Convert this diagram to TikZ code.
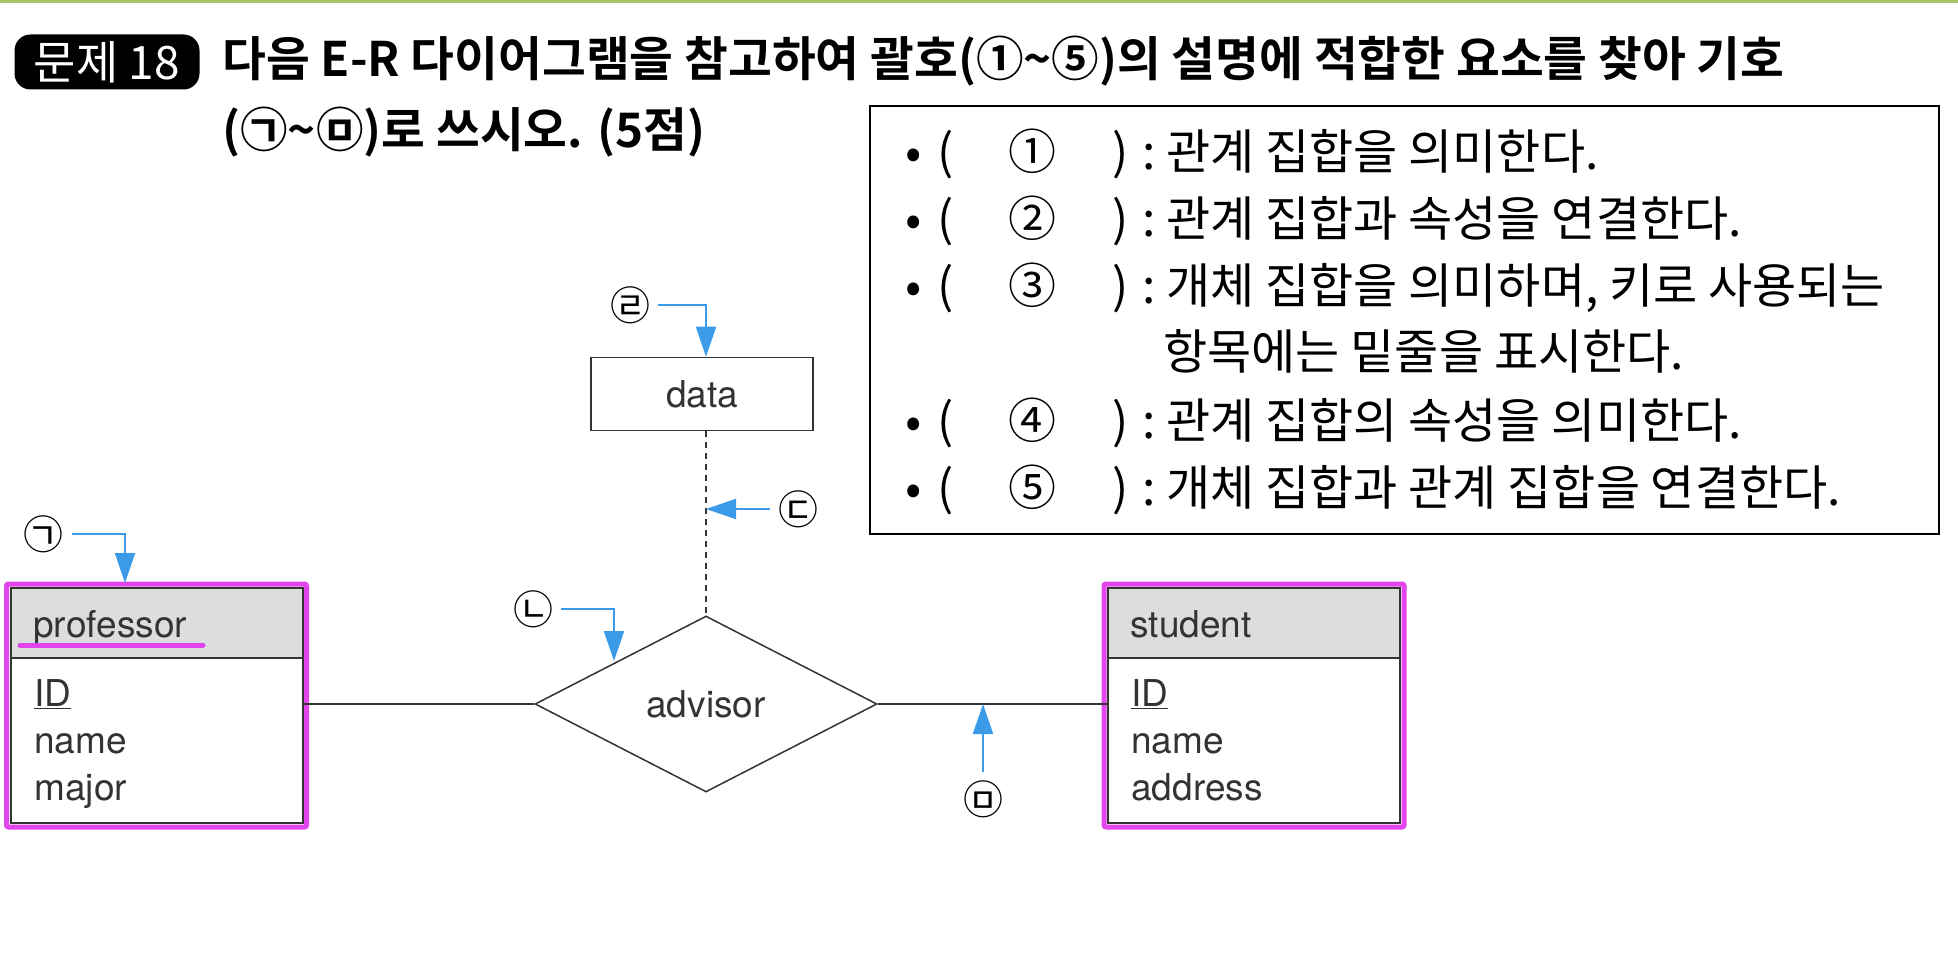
\documentclass[tikz,border=0pt]{standalone}
\usepackage{fontspec}
\usetikzlibrary{arrows.meta,positioning,shapes.geometric,fit}
\newfontfamily\kr{Noto Sans CJK KR}
\newfontfamily\krb{Noto Sans CJK KR Bold}
\newfontfamily\hv{TeX Gyre Heros}
\definecolor{pinkhl}{HTML}{E244EE}
\definecolor{arrblue}{HTML}{3C9BE8}
\definecolor{hdgray}{HTML}{DCDDDF}
\definecolor{ink}{HTML}{333333}
\definecolor{topgreen}{HTML}{A3C66A}
\newcommand\itm[2]{\makebox[13pt][c]{•}\makebox[19pt][c]{(}\makebox[68pt][c]{#1}\makebox[20pt][c]{)}\makebox[9pt][c]{:}\hspace{4pt}#2}

\begin{document}
\begin{tikzpicture}[x=0.5pt,y=-0.5pt,
ttl/.style={anchor=base west,inner sep=0pt,font=\krb\fontsize{23.8pt}{23.8pt}\selectfont},
itm/.style={anchor=base west,inner sep=0pt,font=\kr\fontsize{24pt}{24pt}\selectfont},
dg/.style={inner sep=0pt,text=ink,font=\hv\fontsize{18.5pt}{18.5pt}\selectfont},
ent/.style={draw=ink,line width=1pt,minimum width=146pt,minimum height=117.5pt,inner sep=0pt},
hdr/.style={draw=ink,line width=1pt,fill=hdgray,minimum width=146pt,minimum height=35pt,inner sep=0pt},
hl/.style={draw=pinkhl,line width=2.5pt,inner sep=1.5pt,rounded corners=1pt},
lbl/.style={inner sep=0pt,font=\kr\fontsize{20pt}{20pt}\selectfont},
ln/.style={draw=ink,line width=.75pt},
ptr/.style={arrblue,line width=1pt,-{Triangle[length=15pt,width=10pt]},shorten <=4pt}]
\useasboundingbox (0,0) rectangle (1958,956);
\fill[white] (0,0) rectangle (1958,956);
\draw[topgreen,line width=1.5pt] (0,1.5) -- (1958,1.5);

\node[fill=black,rounded corners=8pt,minimum width=92.5pt,minimum height=27.5pt,inner sep=0pt,text=white,font=\kr\fontsize{23pt}{23pt}\selectfont] (badge) at (107,62) {문제 18};
\node[ttl] (t1) at (222,77) {다음 E-R 다이어그램을 참고하여 괄호(①\textasciitilde⑤)의 설명에 적합한 요소를 찾아 기호};
\node[ttl] (t2) at (222,148) {(㉠\textasciitilde㉤)로 쓰시오. (5점)};

\node[draw,line width=1.2pt,minimum width=534.5pt,minimum height=214pt,inner sep=0pt] (qbox) at (1404.5,320) {};
\node[itm] (i1) at (900,170) {\itm{①}{관계 집합을 의미한다.}};
\node[itm] (i2) at (900,237) {\itm{②}{관계 집합과 속성을 연결한다.}};
\node[itm] (i3) at (900,304) {\itm{③}{개체 집합을 의미하며, 키로 사용되는}};
\node[itm] (i3b) at (1163,370) {항목에는 밑줄을 표시한다.};
\node[itm] (i4) at (900,439) {\itm{④}{관계 집합의 속성을 의미한다.}};
\node[itm] (i5) at (900,506) {\itm{⑤}{개체 집합과 관계 집합을 연결한다.}};

\node[ent] (prof) at (156.5,705.5) {};
\node[hdr,anchor=north] (profh) at (prof.north) {};
\node[hl,fit=(prof)] (profhl) {};
\node[dg,anchor=base west] (profn) at (33,637) {professor};
\draw[pinkhl,line width=2.5pt,line cap=round] (20,645) -- (203,645);
\foreach \t [count=\i] in {\underline{ID},name,major}
  \node[dg,anchor=base west] (pa\i) at (34,659+47*\i) {\t};

\node[ent] (stu) at (1254,705.5) {};
\node[hdr,anchor=north] (stuh) at (stu.north) {};
\node[hl,fit=(stu)] (stuhl) {};
\node[dg,anchor=base west] (stun) at (1130,637) {student};
\foreach \t [count=\i] in {\underline{ID},name,address}
  \node[dg,anchor=base west] (sa\i) at (1131,659+47*\i) {\t};

\node[diamond,aspect=1.95,draw=ink,line width=.75pt,minimum width=171pt,minimum height=88pt,dg] (adv) at (706,704) {advisor};
\node[draw=ink,line width=.75pt,minimum width=111pt,minimum height=36.5pt,dg] (dat) at (702,394) {data};
\draw[ln] (adv.west) -- (adv.west -| prof.east);
\draw[ln] (adv.east) -- (adv.east -| stu.west);
\draw[ln,dash pattern=on 3pt off 2.5pt] (dat.south -| adv.north) -- (adv.north);

\node[lbl] (ka) at (44,534) {㉠};
\node[lbl] (kb) at (533,609) {㉡};
\node[lbl] (kc) at (798,509) {㉢};
\node[lbl] (kd) at (630,305) {㉣};
\node[lbl] (ke) at (983,799) {㉤};
\coordinate (kat) at (125,583);
\coordinate (kbt) at (614,661);
\draw[ptr] (ka) -| (kat);
\draw[ptr] (kb) -| (kbt);
\draw[ptr] (kc) -- (kc -| adv.north);
\draw[ptr] (kd) -| (dat.north -| adv.north);
\draw[ptr] (ke) -- (ke |- adv.east);
\end{tikzpicture}
\end{document}
